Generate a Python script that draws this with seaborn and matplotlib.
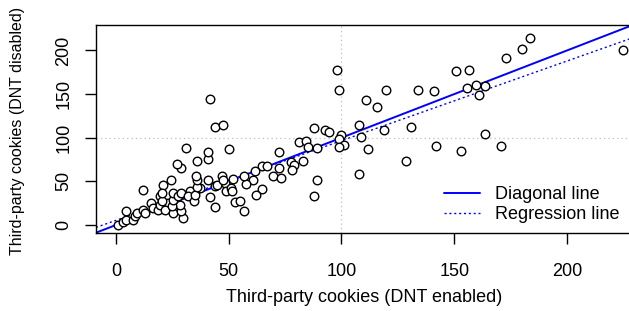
import seaborn as sns
import matplotlib.pyplot as plt
import pandas as pd

# third-party cookies per site
dnt_enabled = [1, 3.2, 4.7, 7.4, 8.4, 9.4, 4.7, 12.1, 12.9, 15.8, 16.5, 18.8, 19.5, 19.5,
               22.5, 23.2, 12.1, 21, 24.5, 21.7, 20.3, 20.3, 25.4, 29.8, 29.1, 28.4, 24.7,
               25.4, 25.4, 27.6, 29.1, 32.8, 32.1, 34.6, 35, 37.3, 35.8, 43.9, 41.7, 48.3,
               43.9, 44.7, 40.9, 36.1, 35.5, 28.8, 26.9, 35.8, 40.9, 40.9, 30.9, 41.8, 43.9,
               47.3, 50, 72.2, 72.2, 64.9, 67, 69.8, 61.8, 60.9, 57.6, 56.8, 52, 46.9, 47.6,
               48.8, 50.9, 51.3, 65, 62, 52.8, 55, 56.8, 73.2, 77.5, 78.8, 77.9, 82.9, 89,
               87.8, 87.8, 81, 84.1, 85, 89, 92.8, 94.3, 99.8, 98.9, 101.1, 98.9, 97.9, 98.9,
               107.8, 108.8, 111.9, 107.8, 110.9, 115.9, 119.9, 118.7, 130.7, 128.7, 133.8,
               140.9, 141.8, 152.8, 150.8, 156.7, 155.7, 159.5, 161.1, 163.8, 172.8, 179.9,
               183.7, 224.7, 163.8, 170.9]
dnt_disabled = [0.3, 3.4, 6.1, 6.1, 10.7, 13.7, 15.6, 17.5, 13.7, 25.2, 19.5, 17.5, 23.3, 32.8,
                21.3, 25.2, 39.7, 46.2, 51.9, 17.5, 27, 36.7, 13.7, 8, 15.6, 23.3, 21.3,
                29, 36.7, 32.8, 36.7, 38.5, 32.8, 27.8, 34.7, 42.4, 43.5, 20.2, 31.6, 48.1,
                44.2, 46.2, 51.9, 51.9, 55.7, 64.8, 69.8, 72.9, 75.9, 83.6, 87.7, 144.7, 111.8,
                114.1, 86.6, 84.2, 65.8, 67.9, 67.9, 55.7, 61.4, 51.9, 47.3, 55.7, 52.7, 55.7, 51.9,
                38.5, 42.4, 38.5, 41.2, 34.7, 25.9, 27, 15.6, 53.8, 71.7, 68.7, 63, 72.9, 51.9,
                32.8, 111.1, 94.6, 96.6, 89.3, 88.5, 109.2, 106.5, 103.4, 98.5, 91.2, 88.9, 177.1, 154.2,
                114.1, 100.8, 86.6, 58.8, 143.2, 135.2, 155, 108.8, 112.3, 72.9, 155,
                153.8, 90, 85.1, 176, 177.1, 156.9, 160.7, 148.5, 159.2, 191.3, 201.9,
                214.2, 200, 104.2, 90.8]

# fitted regression line (intercept, slope)
reg_intercept = 5.3
reg_slope = 0.913

df = pd.DataFrame({"enabled": dnt_enabled, "disabled": dnt_disabled})

sns.set_style("ticks")
plt.rcParams["font.family"] = ["Liberation Sans", "DejaVu Sans"]
plt.rcParams["font.size"] = 13
plt.rcParams["text.color"] = "black"

fig = plt.figure(figsize=(6.29, 3.11), dpi=100)
ax = fig.add_axes([96 / 629, 1 - 232.7 / 311, (632 - 96) / 629, 207.4 / 311])

ax.axvline(100, color="#bebebe", lw=0.9, ls=(0, (1, 2.5)), zorder=1)
ax.axhline(100, color="#bebebe", lw=0.9, ls=(0, (1, 2.5)), zorder=1)
ax.axline((0, 0), slope=1, color="blue", lw=1.4, label="Diagonal line", zorder=2)
ax.axline((0, reg_intercept), slope=reg_slope, color="blue", lw=1.0,
          ls=(0, (1.5, 2)), label="Regression line", zorder=2)

sns.scatterplot(data=df, x="enabled", y="disabled", ax=ax, s=38, marker="o",
                facecolor="white", edgecolor="black", linewidth=1.0, zorder=3)

ax.set_xlim(-8.8, 228.8)
ax.set_ylim(-8.8, 228.8)
ax.set_xticks([0, 50, 100, 150, 200])
ax.set_yticks([0, 50, 100, 150, 200])
for s in ax.spines.values():
    s.set_color("black")
    s.set_linewidth(1.0)
ax.tick_params(length=8, width=1.0, color="black", labelsize=13, labelcolor="black")
ax.tick_params(axis="x", pad=13.5)
ax.tick_params(axis="y", pad=9, labelrotation=90)
for lab in ax.get_yticklabels():
    lab.set_va("center")

ax.set_xlabel("")
ax.set_ylabel("")
fig.text((96 + 632) / 2 / 629, 1 - 298 / 311, "Third-party cookies (DNT enabled)",
         ha="center", va="center", fontsize=13)
fig.text(18 / 629, 1 - 255 / 311, "Third-party cookies (DNT disabled)",
         ha="center", va="bottom", rotation=90, fontsize=11.5)

ax.legend(loc="center left", bbox_to_anchor=(444 / 629, 1 - 204.5 / 311),
          bbox_transform=fig.transFigure, frameon=False, borderpad=0,
          borderaxespad=0, handlelength=2.0, handletextpad=0.85,
          labelspacing=0.15, fontsize=13)

fig.savefig("out.png", dpi=100)
